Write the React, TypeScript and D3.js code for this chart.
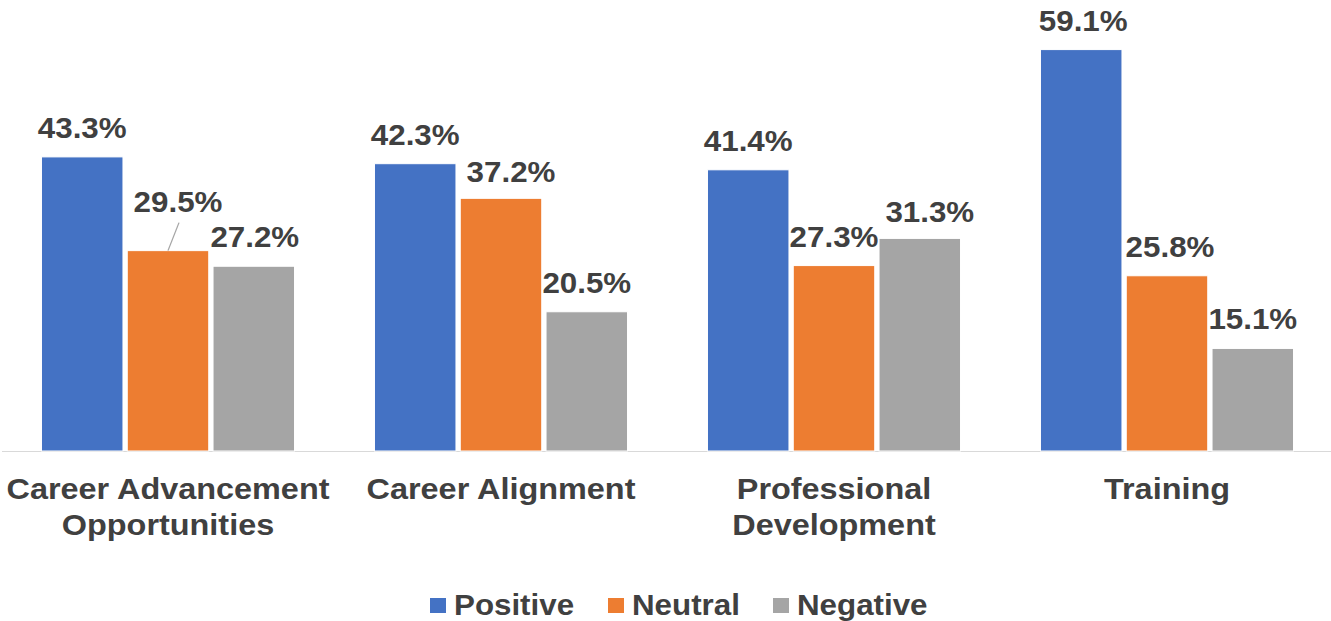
import React from "react";
import * as d3 from "d3";

const categories: string[][] = [
  ["Career Advancement", "Opportunities"],
  ["Career Alignment"],
  ["Professional", "Development"],
  ["Training"],
];
const seriesNames = ["Positive", "Neutral", "Negative"];
const positive = [43.3, 42.3, 41.4, 59.1];
const neutral = [29.5, 37.2, 27.3, 25.8];
const negative = [27.2, 20.5, 31.3, 15.1];
const colors = ["#4472C4", "#ED7D31", "#A5A5A5"];

// manual label nudges (px) per [category][series], like Excel's moved labels
const labelDx = [
  [0, 10, 1],
  [0, 10, 0],
  [0, 0, 10],
  [2, 3, 0],
];
const labelDy = [
  [0, -20, 0],
  [0, 3, 0],
  [0, 0, 3],
  [0, 0, 0],
];
const leader = [[0, 1]];

const W = 1331;
const H = 621;
const baseline = 451;
const FS = 29;
const CAT_FS = 30;
const SX = 1.08;
const TEXT = "#404040";
const FONT = "'Liberation Sans', Arial, sans-serif";

export default function App() {
  const series = [positive, neutral, negative];
  const catKeys = categories.map((c) => c.join(" "));
  const x0 = d3.scaleBand<string>().domain(catKeys).range([1.5, 1333.5]).padding(0);
  const x1 = d3
    .scaleBand<string>()
    .domain(seriesNames)
    .range([0, x0.bandwidth()])
    .paddingInner(0.05)
    .paddingOuter(0.466);
  const y = d3.scaleLinear().domain([0, 66.4]).range([baseline, 0]);

  const legendX = [430, 608, 773];

  return (
    <svg
      width={W}
      height={H}
      style={{ position: "absolute", left: 0, top: 0, display: "block", background: "#fff" }}
      fontFamily={FONT}
    >
      <line x1={2} x2={1331} y1={baseline + 0.5} y2={baseline + 0.5} stroke="#D9D9D9" strokeWidth={1.2} />
      {catKeys.map((ck, ci) => (
        <g key={ck} transform={`translate(${x0(ck)},0)`}>
          {series.map((vals, si) => {
            const bx = x1(seriesNames[si])!;
            const bw = x1.bandwidth();
            const top = y(vals[ci]);
            return (
              <rect
                key={si}
                x={bx}
                y={top}
                width={bw}
                height={baseline - top}
                fill={colors[si]}
                stroke="#fff"
                strokeWidth={1}
              />
            );
          })}
          {series.map((vals, si) => {
            const cx = x1(seriesNames[si])! + x1.bandwidth() / 2;
            const top = y(vals[ci]);
            const lx = cx + labelDx[ci][si];
            const ly = top - 19 + labelDy[ci][si];
            const hasLeader = leader.some(([a, b]) => a === ci && b === si);
            return (
              <g key={"l" + si}>
                {hasLeader && (
                  <line x1={cx + 11} y1={ly + 11} x2={cx} y2={top} stroke="#A6A6A6" strokeWidth={1.3} />
                )}
                <text
                  transform={`translate(${lx},${ly}) scale(${SX},1)`}
                  textAnchor="middle"
                  fontSize={FS}
                  fontWeight="bold"
                  fill={TEXT}
                >
                  {vals[ci].toFixed(1) + "%"}
                </text>
              </g>
            );
          })}
          {categories[ci].map((line, li) => (
            <text
              key={"c" + li}
              transform={`translate(${x0.bandwidth() / 2},${499 + li * 36.3}) scale(${SX},1)`}
              textAnchor="middle"
              fontSize={CAT_FS}
              fontWeight="bold"
              fill={TEXT}
            >
              {line}
            </text>
          ))}
        </g>
      ))}
      {seriesNames.map((name, i) => (
        <g key={name} transform={`translate(${legendX[i]},0)`}>
          <rect x={0} y={598} width={16} height={15} fill={colors[i]} />
          <text
            transform={`translate(24,614.5) scale(${SX},1)`}
            fontSize={FS}
            fontWeight="bold"
            fill={TEXT}
          >
            {name}
          </text>
        </g>
      ))}
    </svg>
  );
}
